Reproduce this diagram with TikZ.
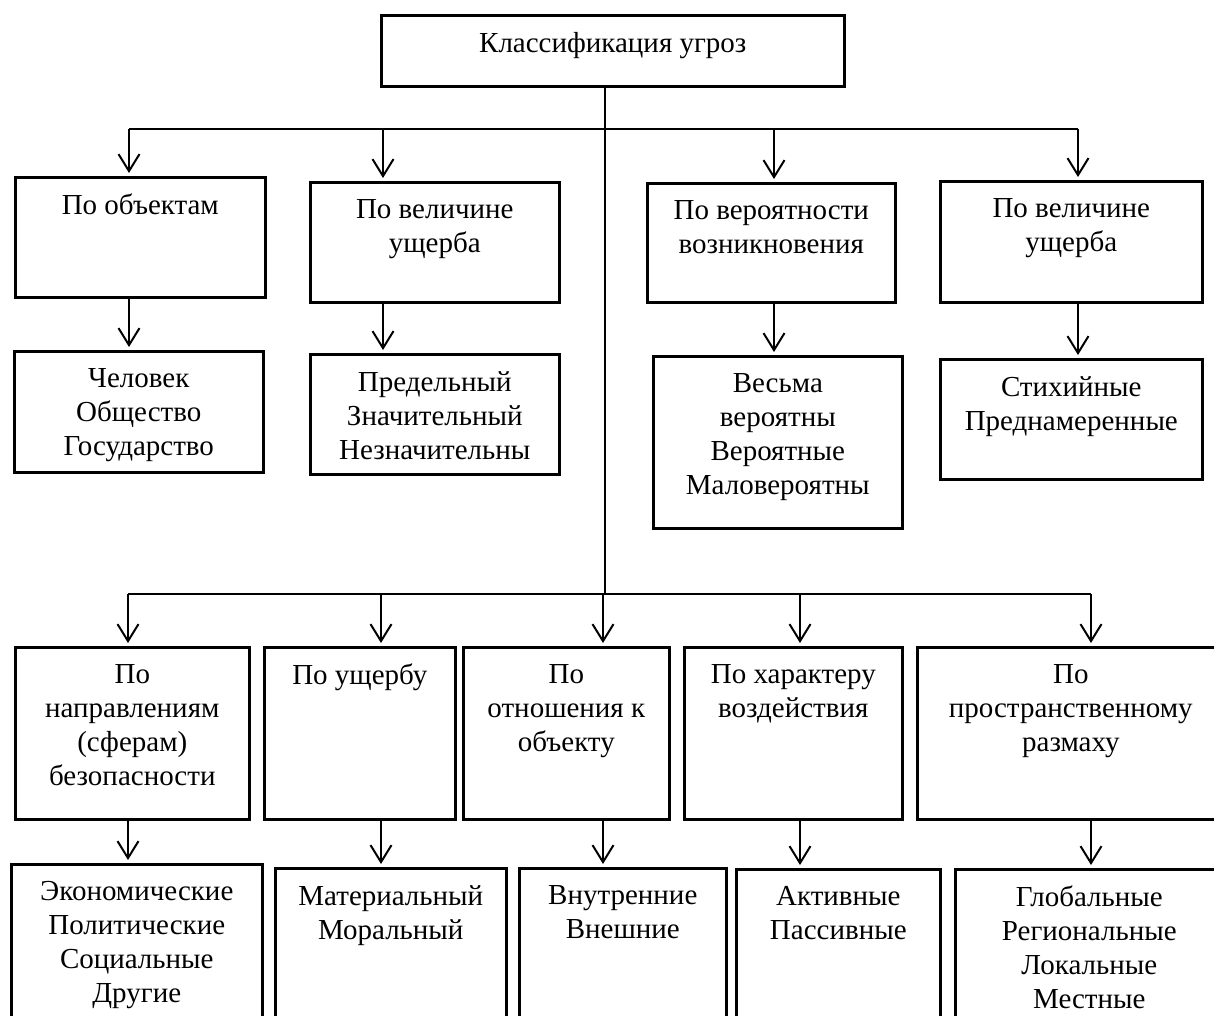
\documentclass[tikz,border=0pt]{standalone}
\usepackage{fontspec}
\setmainfont{Liberation Serif}
\usetikzlibrary{arrows.meta,positioning}

\tikzset{
    box/.style={draw, line width=2.6pt, anchor=north west, inner sep=0pt},
    lbl/.style={anchor=north, yshift=-18pt, align=center, inner sep=0pt},
    bus/.style={line width=1.3pt},
    arr/.style={line width=2pt, -{Straight Barb[length=17pt,width=21pt]}, shorten >=3pt}
}

\begin{document}
\begin{tikzpicture}[
    x=1pt,
    y=-1pt,
    font=\fontsize{29}{34}\selectfont,
    line join=miter
]

\useasboundingbox (0,0) rectangle (1214,1016);
\clip (0,0) rectangle (1214,1016);

% root
\node[box, minimum width=463pt, minimum height=71pt,
    label={[lbl]north:Классификация угроз}]
    (root) at (380,14) {};

% upper row
\node[box, minimum width=250pt, minimum height=120pt,
    label={[lbl]north:По объектам}]
    (obj) at (14,176) {};
\node[box, minimum width=249pt, minimum height=120pt,
    label={[lbl]north:По величине\\ущерба}]
    (size) at (309,181) {};
\node[box, minimum width=248pt, minimum height=119pt,
    label={[lbl]north:По вероятности\\возникновения}]
    (prob) at (646,182) {};
\node[box, minimum width=262pt, minimum height=121pt,
    label={[lbl]north:По величине\\ущерба}]
    (sizeb) at (939,180) {};

% upper row, kinds
\node[box, minimum width=249pt, minimum height=121pt,
    label={[lbl]north:Человек\\Общество\\Государство}]
    (objl) at (13,350) {};
\node[box, minimum width=249pt, minimum height=120pt,
    label={[lbl]north:Предельный\\Значительный\\Незначительны}]
    (sizel) at (309,353) {};
\node[box, minimum width=249pt, minimum height=172pt,
    label={[lbl]north:Весьма\\вероятны\\Вероятные\\Маловероятны}]
    (probl) at (652,355) {};
\node[box, minimum width=262pt, minimum height=120pt,
    label={[lbl]north:Стихийные\\Преднамеренные}]
    (sizebl) at (939,358) {};

% lower row
\node[box, minimum width=234pt, minimum height=172pt,
    label={[lbl]north:По\\направлениям\\(сферам)\\безопасности}]
    (dir) at (14,646) {};
\node[box, minimum width=191pt, minimum height=172pt,
    label={[lbl]north:По ущербу}]
    (harm) at (263,646) {};
\node[box, minimum width=206pt, minimum height=172pt,
    label={[lbl]north:По\\отношения к\\объекту}]
    (rel) at (462,646) {};
\node[box, minimum width=218pt, minimum height=172pt,
    label={[lbl]north:По характеру\\воздействия}]
    (act) at (683,646) {};
\node[box, minimum width=307pt, minimum height=172pt,
    label={[lbl]north:По\\пространственному\\размаху}]
    (space) at (916,646) {};

% lower row, kinds
\node[box, minimum width=251pt, minimum height=180pt,
    label={[lbl]north:Экономические\\Политические\\Социальные\\Другие}]
    (dirl) at (10,863) {};
\node[box, minimum width=231pt, minimum height=180pt,
    label={[lbl]north:Материальный\\Моральный}]
    (harml) at (274,867) {};
\node[box, minimum width=207pt, minimum height=180pt,
    label={[lbl]north:Внутренние\\Внешние}]
    (rell) at (518,867) {};
\node[box, minimum width=204pt, minimum height=180pt,
    label={[lbl]north:Активные\\Пассивные}]
    (actl) at (735,868) {};
\node[box, minimum width=268pt, minimum height=180pt,
    label={[lbl]north:Глобальные\\Региональные\\Локальные\\Местные}]
    (spacel) at (954,868) {};

% buses
\coordinate (top) at (605,129);
\coordinate (mid) at (605,594);

\coordinate (t1) at (129,129);
\coordinate (t2) at (383,129);
\coordinate (t3) at (774,129);
\coordinate (t4) at (1078,129);

\coordinate (m1) at (128,594);
\coordinate (m2) at (381,594);
\coordinate (m3) at (603,594);
\coordinate (m4) at (800,594);
\coordinate (m5) at (1091,594);

\draw[bus] (root.south -| top) -- (mid);
\draw[bus] (t1) -- (t4);
\draw[bus] (m1) -- (m5);

% arrows, upper
\draw[arr] (t1) -- (t1 |- obj.north);
\draw[arr] (t2) -- (t2 |- size.north);
\draw[arr] (t3) -- (t3 |- prob.north);
\draw[arr] (t4) -- (t4 |- sizeb.north);

\draw[arr] (obj.south -| t1) -- (objl.north -| t1);
\draw[arr] (size.south -| t2) -- (sizel.north -| t2);
\draw[arr] (prob.south -| t3) -- (probl.north -| t3);
\draw[arr] (sizeb.south -| t4) -- (sizebl.north -| t4);

% arrows, lower
\draw[arr] (m1) -- (m1 |- dir.north);
\draw[arr] (m2) -- (m2 |- harm.north);
\draw[arr] (m3) -- (m3 |- rel.north);
\draw[arr] (m4) -- (m4 |- act.north);
\draw[arr] (m5) -- (m5 |- space.north);

\draw[arr] (dir.south -| m1) -- (dirl.north -| m1);
\draw[arr] (harm.south -| m2) -- (harml.north -| m2);
\draw[arr] (rel.south -| m3) -- (rell.north -| m3);
\draw[arr] (act.south -| m4) -- (actl.north -| m4);
\draw[arr] (space.south -| m5) -- (spacel.north -| m5);

\end{tikzpicture}
\end{document}
